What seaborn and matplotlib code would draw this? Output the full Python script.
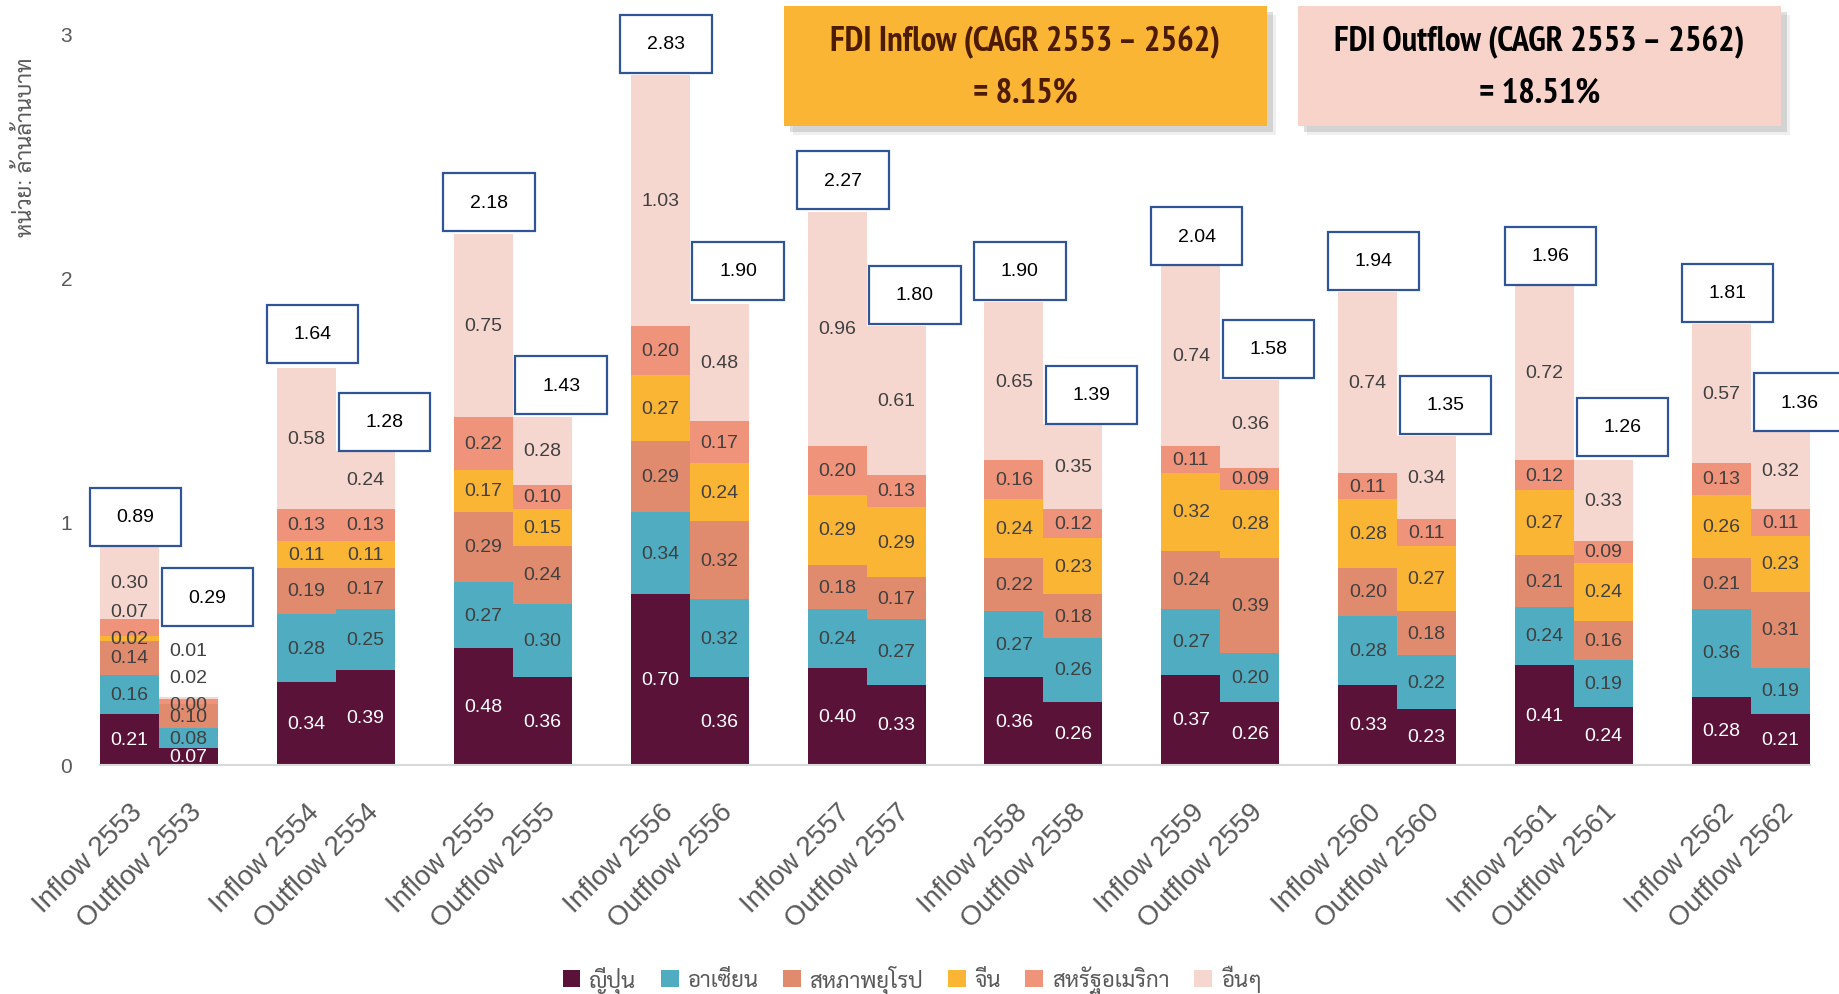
#### Librairies
import numpy as np
import pandas as pd
import matplotlib
matplotlib.use("Agg")
import matplotlib.pyplot as plt
import matplotlib.patheffects as pe
from matplotlib import font_manager
from matplotlib.patches import Rectangle, Patch
import seaborn as sns

#### Données (ordre : Inflow 2553, Outflow 2553, Inflow 2554, ...)
years = [2553, 2554, 2555, 2556, 2557, 2558, 2559, 2560, 2561, 2562]
regions = ["ญี่ปุ่น", "อาเซียน", "สหภาพยุโรป", "จีน", "สหรัฐอเมริกา", "อื่นๆ"]
colors = ["#5A1238", "#4FACC1", "#E08A6E", "#FBB535", "#F0937B", "#F5D7CF"]

japan = [0.21, 0.07, 0.34, 0.39, 0.48, 0.36, 0.70, 0.36, 0.40, 0.33,
         0.36, 0.26, 0.37, 0.26, 0.33, 0.23, 0.41, 0.24, 0.28, 0.21]
asean = [0.16, 0.08, 0.28, 0.25, 0.27, 0.30, 0.34, 0.32, 0.24, 0.27,
         0.27, 0.26, 0.27, 0.20, 0.28, 0.22, 0.24, 0.19, 0.36, 0.19]
eu = [0.14, 0.10, 0.19, 0.17, 0.29, 0.24, 0.29, 0.32, 0.18, 0.17,
      0.22, 0.18, 0.24, 0.39, 0.20, 0.18, 0.21, 0.16, 0.21, 0.31]
china = [0.02, 0.00, 0.11, 0.11, 0.17, 0.15, 0.27, 0.24, 0.29, 0.29,
         0.24, 0.23, 0.32, 0.28, 0.28, 0.27, 0.27, 0.24, 0.26, 0.23]
usa = [0.07, 0.02, 0.13, 0.13, 0.22, 0.10, 0.20, 0.17, 0.20, 0.13,
       0.16, 0.12, 0.11, 0.09, 0.11, 0.11, 0.12, 0.09, 0.13, 0.11]
others = [0.30, 0.01, 0.58, 0.24, 0.75, 0.28, 1.03, 0.48, 0.96, 0.61,
          0.65, 0.35, 0.74, 0.36, 0.74, 0.34, 0.72, 0.33, 0.57, 0.32]
totals = [0.89, 0.29, 1.64, 1.28, 2.18, 1.43, 2.83, 1.90, 2.27, 1.80,
          1.90, 1.39, 2.04, 1.58, 1.94, 1.35, 1.96, 1.26, 1.81, 1.36]
cagr_in = 8.15
cagr_out = 18.51

#### Mise en forme des données
series = [japan, asean, eu, china, usa, others]
flows = ["Inflow", "Outflow"]
bar_names = [f"{f} {y}" for y in years for f in flows]
# une colonne vide entre chaque année
positions = [3 * i + j for i in range(len(years)) for j in range(2)]

rows = []
for reg, vals in zip(regions, series):
    for p, v in zip(positions, vals):
        rows.append({"pos": p, "region": reg, "value": v})
df = pd.DataFrame(rows)

#### Style
sns.set_style("white")
thai = ["Liberation Sans", "Sarabun", "Noto Sans Thai", "Bai Jamjuree", "DejaVu Sans"]
plt.rcParams["font.family"] = thai
grey = "#595959"

# police étroite grasse pour les encadrés CAGR, si disponible
cands = ["Arial Narrow", "Liberation Sans Narrow", "Archivo Narrow", "PT Sans Narrow",
         "Roboto Condensed", "Open Sans Condensed", "Barlow Semi Condensed",
         "Barlow Condensed", "IBM Plex Sans Condensed", "Encode Sans Condensed"]
narrow_props = font_manager.FontProperties(family="Liberation Sans", weight="bold", size=20)
stroke = []
found = False
for name in cands:
    for f in font_manager.fontManager.ttflist:
        if f.name == name and f.style == "normal" and f.weight in (700, "bold"):
            narrow_props = font_manager.FontProperties(fname=f.fname, size=25)
            found = True
            break
    if found:
        break
if not found:
    for name in cands:
        try:
            font_manager.findfont(font_manager.FontProperties(family=name),
                                  fallback_to_default=False)
            narrow_props = font_manager.FontProperties(family=name, weight="bold", size=24)
            stroke = [pe.withStroke(linewidth=1.2)]
            break
        except ValueError:
            pass

W, H = 1840, 995
fig = plt.figure(figsize=(W / 100, H / 100), dpi=100)
ax = fig.add_axes([100 / W, 229 / H, 1710 / W, 731 / H])

# histplot empile du premier niveau de hue (haut) au dernier (bas)
sns.histplot(
    data=df, x="pos", weights="value", hue="region",
    hue_order=regions[::-1], palette=dict(zip(regions, colors)),
    multiple="stack", discrete=True, shrink=1, alpha=1,
    linewidth=0, legend=False, ax=ax
)

#### Étiquettes des segments
for k, p in enumerate(positions):
    bottom = 0
    prev_tiny = False
    prev_y = 0
    top_label = 0
    for s, vals in enumerate(series):
        v = vals[k]
        y = bottom + v / 2
        # petits segments : on décale l'étiquette suivante vers le haut
        if prev_tiny and y < prev_y + 0.11:
            y = prev_y + 0.11
        ax.text(p, y, f"{v:.2f}", ha="center", va="center", fontsize=14,
                color="white" if s == 0 else "#404040", zorder=4)
        prev_tiny, prev_y = v < 0.03, y
        top_label = max(top_label, y)
        bottom += v

    # boîte du total
    dx = 0.1 if k % 2 == 0 else 0.32
    y0 = max(totals[k] + 0.01, top_label + 0.1)
    ax.add_patch(Rectangle((p + dx - 0.775, y0), 1.55, 0.238, facecolor="white",
                           edgecolor="#2F5597", linewidth=1.6, zorder=5, clip_on=False))
    ax.text(p + dx, y0 + 0.119, f"{totals[k]:.2f}", ha="center", va="center",
            fontsize=14, color="black", zorder=6, clip_on=False)

#### Axes
ax.set_xlim(-0.5, positions[-1] + 0.5)
ax.set_ylim(0, 3)
ax.set_yticks([0, 1, 2, 3])
ax.set_xticks(positions)
ax.set_xticklabels(bar_names, rotation=45, ha="right", va="top",
                   rotation_mode="anchor", fontsize=20, color=grey)
ax.tick_params(axis="y", length=0, pad=20, labelsize=15, labelcolor=grey)
ax.tick_params(axis="x", length=0, pad=24)
ax.set_xlabel("")
ax.set_ylabel("")
for side in ["top", "right", "left"]:
    ax.spines[side].set_visible(False)
ax.spines["bottom"].set_color("#D9D9D9")
ax.spines["bottom"].set_linewidth(1.5)

fig.text(26 / W, 1 - 147 / H, "หน่วย: ล้านล้านบาท", rotation=90, ha="center",
         va="center", fontsize=16, color=grey)

#### Légende
handles = [Patch(facecolor=c, edgecolor="none") for c in colors]
leg = ax.legend(handles, regions, loc="center", bbox_to_anchor=(912 / W, 1 - 980 / H),
                bbox_transform=fig.transFigure, ncol=6, frameon=False,
                handlelength=0.8, handleheight=0.8, handletextpad=0.4,
                columnspacing=1.1, fontsize=16)
for t in leg.get_texts():
    t.set_color(grey)

#### Encadrés CAGR
boxes = [
    (784, "#FBB535", "#4D1B00", "FDI Inflow (CAGR 2553 – 2562)", f"= {cagr_in:.2f}%"),
    (1298, "#F8D3CA", "black", "FDI Outflow (CAGR 2553 – 2562)", f"= {cagr_out:.2f}%"),
]
bw, bh, btop = 483, 120, 7
for x0, fc, tc, l1, l2 in boxes:
    for off, a in [(9, 0.12), (6, 0.25)]:
        fig.add_artist(Rectangle(((x0 + off) / W, 1 - (btop + bh + off) / H), bw / W, bh / H,
                                 transform=fig.transFigure, facecolor="#808080",
                                 edgecolor="none", alpha=a, zorder=1))
    fig.add_artist(Rectangle((x0 / W, 1 - (btop + bh) / H), bw / W, bh / H,
                             transform=fig.transFigure, facecolor=fc,
                             edgecolor="none", zorder=2))
    cx = (x0 + bw / 2) / W
    for ty, txt in [(42, l1), (93, l2)]:
        t = fig.text(cx, 1 - ty / H, txt, ha="center", va="center",
                     fontproperties=narrow_props, color=tc, zorder=3)
        if stroke:
            t.set_path_effects([pe.withStroke(linewidth=1.2, foreground=tc)])

fig.savefig("out.png", dpi=100)
